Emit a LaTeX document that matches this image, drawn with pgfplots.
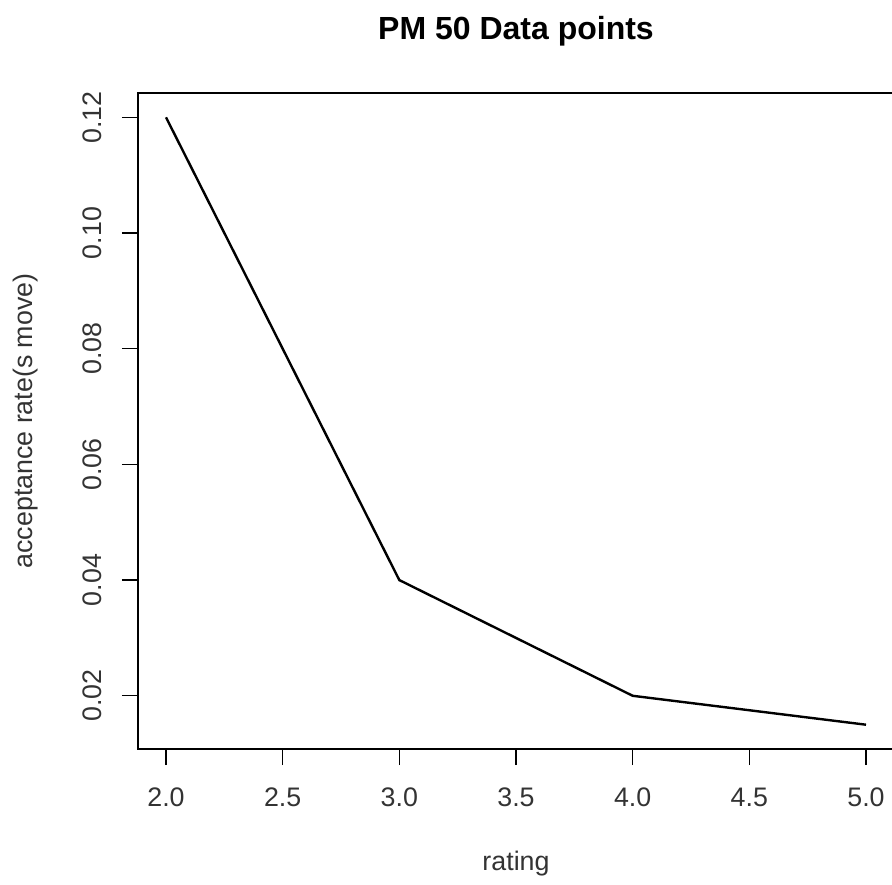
\documentclass[border=0pt]{standalone}
\usepackage{fontspec}
\setmainfont{Liberation Sans}
\usepackage{pgfplots}
\pgfplotsset{compat=1.18}
\begin{document}
\begin{tikzpicture}
\useasboundingbox (-69pt,-67.5pt) rectangle (377pt,374.5pt);
\begin{axis}[
  at={(0,0)}, anchor=south west,
  scale only axis,
  width=378pt, height=328pt,
  xmin=1.88, xmax=5.12,
  ymin=0.0108, ymax=0.1242,
  xtick={2,2.5,3,3.5,4,4.5,5},
  ytick={0.02,0.04,0.06,0.08,0.10,0.12},
  xticklabel style={/pgf/number format/fixed, /pgf/number format/fixed zerofill, /pgf/number format/precision=1, anchor=base},
  yticklabel style={/pgf/number format/fixed, /pgf/number format/fixed zerofill, /pgf/number format/precision=2, rotate=90, anchor=base},
  /pgf/number format/assume math mode=true,
  scaled y ticks=false,
  tick align=outside,
  major tick length=8pt,
  xtick pos=bottom, ytick pos=left,
  axis line style={line width=0.6pt, black},
  every tick/.style={line width=0.6pt, black},
  tick label style={font=\fontsize{13.4pt}{16pt}\selectfont, text=black!80},
  xticklabel shift=20.5pt,
  yticklabel shift=10pt,
  clip=false,
]
\addplot[black, line width=1.2pt] coordinates {(2,0.12) (3,0.04) (4,0.02) (5,0.015)};
\node[anchor=base, font=\bfseries\fontsize{16pt}{19pt}\selectfont] at (rel axis cs:0.5,1) [yshift=26.9pt] {PM 50 Data points};
\node[anchor=base, font=\fontsize{13.4pt}{16pt}\selectfont, text=black!80] at (rel axis cs:0.5,0) [yshift=-60.5pt] {rating};
\node[xshift=-52.5pt, anchor=base, rotate=90, font=\fontsize{13.4pt}{16pt}\selectfont, text=black!80] at (rel axis cs:0,0.5) {acceptance rate(s move)};
\end{axis}
\end{tikzpicture}
\end{document}
